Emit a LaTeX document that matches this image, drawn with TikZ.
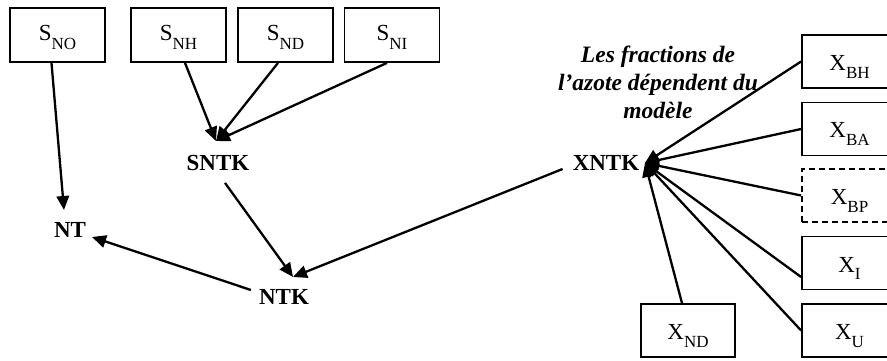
\documentclass[tikz,border=0pt]{standalone}
\usepackage{fontspec}
\setmainfont{Liberation Serif}
\usetikzlibrary{arrows.meta}
\newcommand\subtx[2][7.5pt]{\raisebox{-#1}{\fontsize{17}{17}\selectfont #2}}
\begin{document}
\begin{tikzpicture}[x=1pt,y=-1pt,
  sbox/.style={draw, line width=1.8pt, minimum width=95pt, minimum height=54pt, inner sep=0pt,
    text height=16pt, text depth=4.6pt, font=\fontsize{23}{27}\selectfont},
  xbox/.style={sbox, minimum height=53pt, text height=18pt, text depth=0pt},
  dbox/.style={xbox, dash pattern=on 6pt off 4pt},
  bold/.style={font=\fontsize{23}{27}\selectfont\bfseries, inner sep=0pt},
  note/.style={font=\fontsize{23.5}{28}\selectfont\bfseries\itshape, align=center, inner sep=0pt},
  conn/.style={line width=2.3pt, -{Triangle[length=14pt,width=12.5pt]}},
]
\useasboundingbox (0,0) rectangle (887,361);
\clip (0,0) rectangle (887,361);
% top S boxes
\node[sbox] (sno) at (57.5,35) {S\subtx[8.5pt]{NO}};
\node[sbox] (snh) at (178.5,35) {S\subtx[8.5pt]{NH}};
\node[sbox] (snd) at (285.5,35) {S\subtx[8.5pt]{ND}};
\node[sbox] (sni) at (392,35) {S\subtx[8.5pt]{NI}};
% right X boxes
\node[xbox] (xbh) at (849.5,61.5) {X\subtx{BH}};
\node[xbox] (xba) at (849.5,129) {X\subtx{BA}};
\node[dbox] (xbp) at (849.5,195.5) {X\subtx{BP}};
\node[xbox] (xi) at (849.5,263) {X\subtx{I}};
\node[xbox] (xu) at (849.5,330.5) {X\subtx{U}};
\node[xbox, minimum width=94pt] (xnd) at (688,330.5) {X\subtx{ND}};
% bold labels
\node[bold] (sntk) at (218,163) {SNTK};
\node[bold] (xntk) at (606,163) {XNTK};
\node[bold] (nt) at (70,230) {NT};
\node[bold] (ntk) at (284,297) {NTK};
\node[note] (txt) at (658,82) {Les fractions de\\l’azote dépendent du\\modèle};
% arrival points
\coordinate (sntkin) at (216,141);
\coordinate (ntin) at (64,210);
\coordinate (ntin2) at (92,237);
\coordinate (ntkin) at (293,277);
\coordinate (xin) at (645,163);
% connectors
\draw[conn] ([xshift=-6pt]sno.south) -- (ntin);
\draw[conn] ([xshift=6.5pt]snh.south) -- (sntkin);
\draw[conn] ([xshift=-7.5pt]snd.south) -- (sntkin);
\draw[conn] ([xshift=-5pt]sni.south) -- (sntkin);
\draw[conn] ([xshift=7pt,yshift=-12pt]sntk.south) -- (ntkin);
\draw[conn] ([xshift=-10pt,yshift=-6pt]xntk.west) -- (ntkin);
\draw[conn] ([xshift=-8pt,yshift=7pt]ntk.west) -- (ntin2);
\draw[conn] (xbh.west) -- (xin);
\draw[conn] (xba.west) -- (xin);
\draw[conn] (xbp.west) -- (xin);
\draw[conn] ([yshift=-14pt]xi.west) -- (xin);
\draw[conn] (xu.west) -- (xin);
\draw[conn] ([xshift=-6pt]xnd.north) -- (xin);
\end{tikzpicture}
\end{document}
